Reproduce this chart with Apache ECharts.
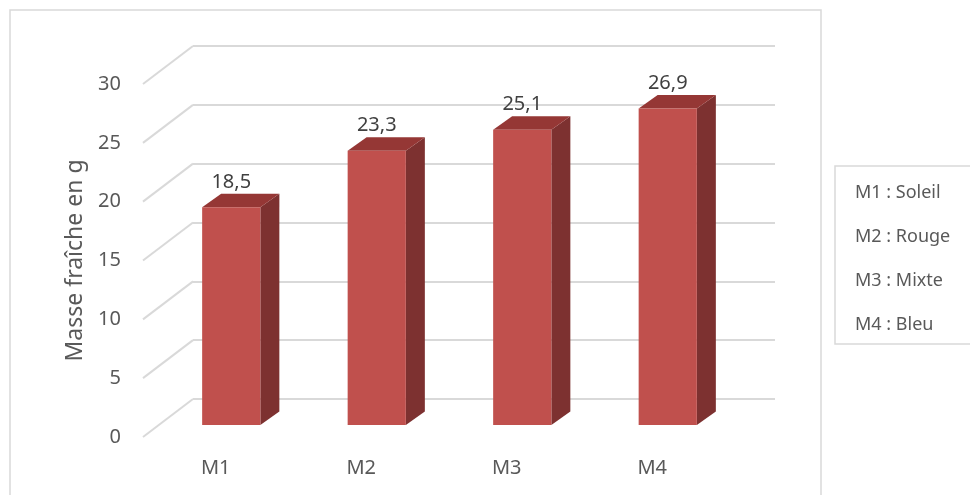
<!DOCTYPE html>
<html>
<head>
<meta charset="utf-8">
<style>
html,body{margin:0;padding:0;background:#fff;}
#chart{width:970px;height:495px;}
</style>
<script src="https://cdn.jsdelivr.net/npm/echarts@6/dist/echarts.min.js"></script>
</head>
<body>
<div id="chart"></div>
<script>
var categories = ['M1', 'M2', 'M3', 'M4'];
var values = [18.5, 23.3, 25.1, 26.9];
var valueLabels = ['18,5', '23,3', '25,1', '26,9'];
var yTicks = [0, 5, 10, 15, 20, 25, 30];
var legendLabels = ['M1 : Soleil', 'M2 : Rouge', 'M3 : Mixte', 'M4 : Bleu'];
var axisTitle = 'Masse fraîche en g';

var FONT = '"Noto Sans", "Open Sans", sans-serif';
var WALL_DX = 50, WALL_DY = -38;   // depth of the 3D wall
var BAR_POS_DX = 15.5, BAR_POS_DY = -12; // bar front plane inside depth
var BAR_DX = 19, BAR_DY = -13.5;   // bar depth

var chart = echarts.init(document.getElementById('chart'), null, {renderer: 'canvas'});

var legendGraphics = [{
  type: 'rect', shape: {x: 835, y: 166, width: 200, height: 178},
  style: {fill: 'none', stroke: '#D9D9D9', lineWidth: 1.5}, silent: true
}, {
  type: 'rect', shape: {x: 10, y: 10, width: 811, height: 500},
  style: {fill: 'none', stroke: '#D9D9D9', lineWidth: 1.5}, silent: true
}];
legendLabels.forEach(function (t, i) {
  legendGraphics.push({
    type: 'text', x: 855, y: 193 + i * 44,
    style: {text: t, fill: '#595959', font: '18px ' + FONT, verticalAlign: 'middle', align: 'left'}
  });
});

var option = {
  animation: false,
  backgroundColor: '#fff',
  grid: [
    {left: 143, right: 245, top: 84, bottom: 58},   // front plane
    {left: 193, right: 195, top: 46, bottom: 96}    // back wall
  ],
  xAxis: [{
    type: 'category', gridIndex: 0, data: categories,
    axisLine: {show: false}, axisTick: {show: false},
    axisLabel: {color: '#595959', fontSize: 20, fontFamily: FONT, margin: 21}
  }, {
    type: 'value', gridIndex: 1, min: 0, max: 1, show: false
  }],
  yAxis: [{
    type: 'value', gridIndex: 0, min: 0, max: 30, interval: 5,
    axisLine: {show: false}, axisTick: {show: false}, splitLine: {show: false},
    axisLabel: {color: '#595959', fontSize: 20, fontFamily: FONT, margin: 22},
    name: axisTitle, nameLocation: 'middle', nameGap: 56, nameRotate: 90,
    nameTextStyle: {color: '#595959', fontSize: 23, fontFamily: FONT}
  }, {
    type: 'value', gridIndex: 1, min: 0, max: 30, interval: 5,
    axisLine: {show: false}, axisTick: {show: false}, axisLabel: {show: false},
    splitLine: {show: true, lineStyle: {color: '#D9D9D9', width: 2}}
  }],
  graphic: legendGraphics,
  series: [{
    type: 'custom', xAxisIndex: 1, yAxisIndex: 1, z: 1,
    data: yTicks.map(function (v) { return [0, v]; }),
    renderItem: function (params, api) {
      var p = api.coord([0, api.value(1)]);
      return {
        type: 'line',
        shape: {x1: p[0] - WALL_DX, y1: p[1] - WALL_DY, x2: p[0], y2: p[1]},
        style: {stroke: '#D9D9D9', lineWidth: 2}
      };
    }
  }, {
    type: 'custom', xAxisIndex: 0, yAxisIndex: 0, z: 5,
    data: values.map(function (v, i) { return [i, v]; }),
    renderItem: function (params, api) {
      var i = api.value(0), v = api.value(1);
      var top = api.coord([i, v]);
      var base = api.coord([i, 0]);
      var band = api.size([1, 0])[0];
      var w = band * 0.4;
      var cx = top[0] + BAR_POS_DX;
      var l = cx - w / 2, r = cx + w / 2;
      var ty = top[1] + BAR_POS_DY, by = base[1] + BAR_POS_DY;
      return {
        type: 'group',
        children: [{
          type: 'polygon',
          shape: {points: [[r, ty], [r + BAR_DX, ty + BAR_DY], [r + BAR_DX, by + BAR_DY], [r, by]]},
          style: {fill: '#7D3130'}
        }, {
          type: 'polygon',
          shape: {points: [[l, ty], [r, ty], [r + BAR_DX, ty + BAR_DY], [l + BAR_DX, ty + BAR_DY]]},
          style: {fill: '#953735'}
        }, {
          type: 'rect',
          shape: {x: l, y: ty, width: w, height: by - ty},
          style: {fill: '#C0504D'}
        }, {
          type: 'text', x: cx, y: ty + BAR_DY - 12,
          style: {text: valueLabels[i], fill: '#404040', font: '20px ' + FONT,
                  align: 'center', verticalAlign: 'middle'}
        }]
      };
    }
  }]
};
chart.setOption(option);
</script>
</body>
</html>
